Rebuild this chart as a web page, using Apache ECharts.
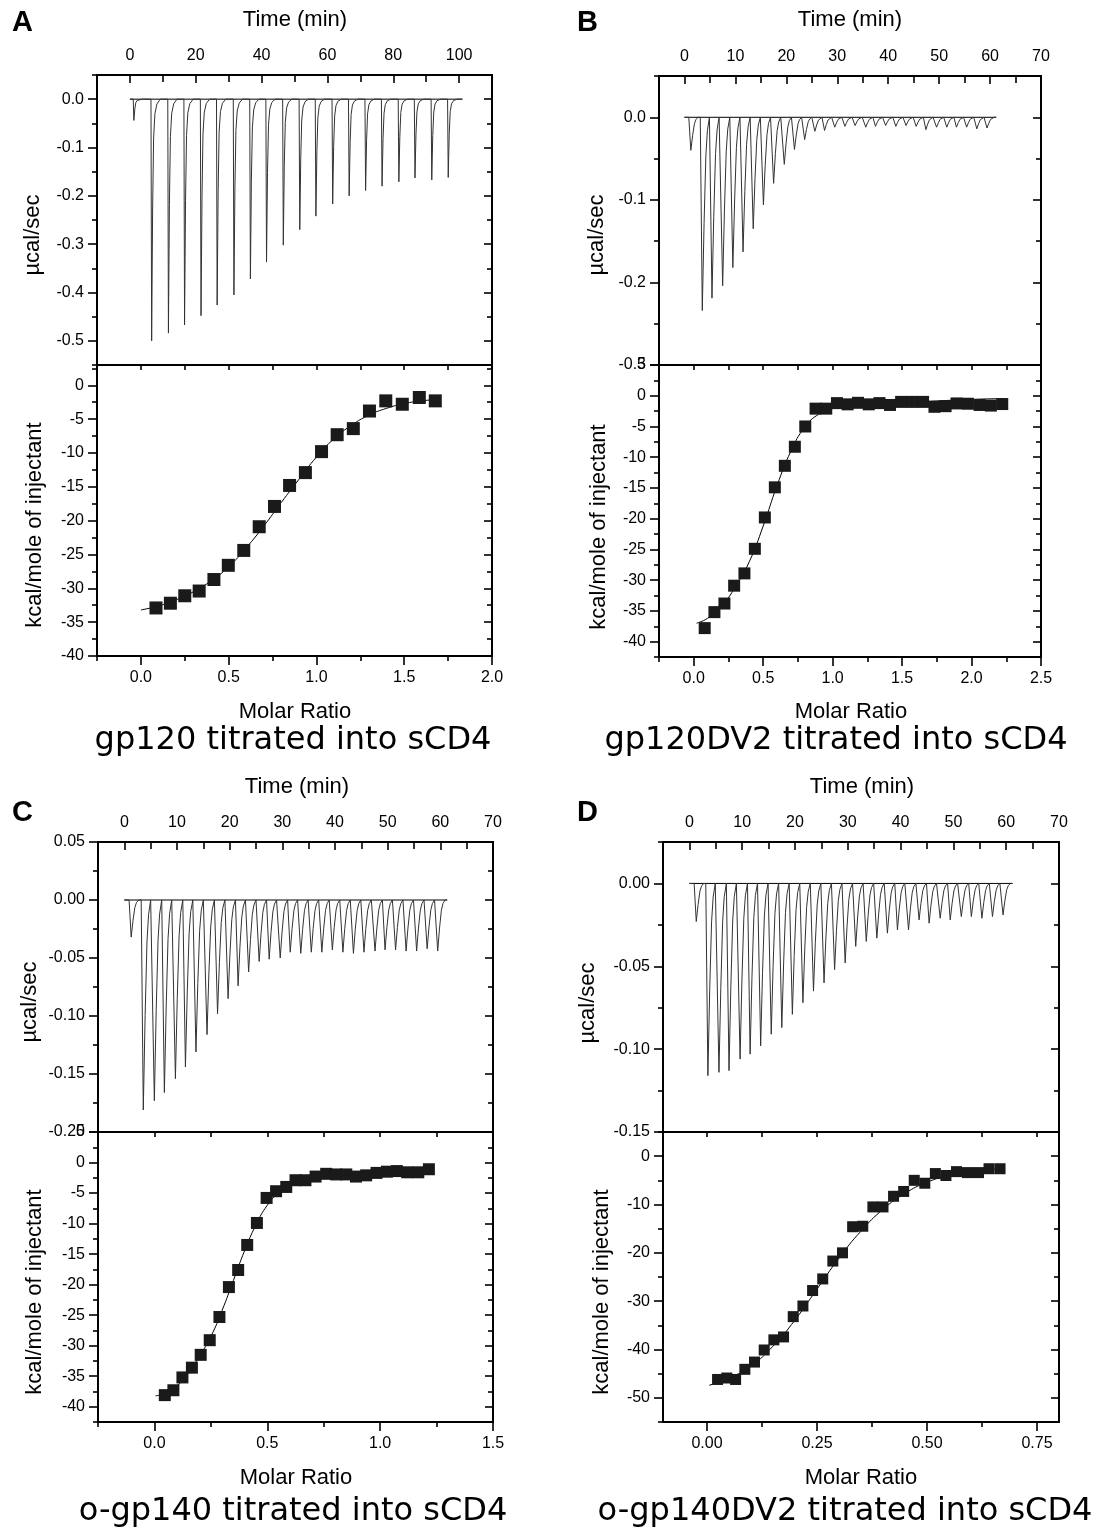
<!DOCTYPE html>
<html>
<head>
<meta charset="utf-8">
<script src="https://cdn.jsdelivr.net/npm/echarts@6/dist/echarts.min.js"></script>
<style>
  html, body { margin: 0; padding: 0; background: #fff; }
  #chart { width: 1102px; height: 1530px; }
</style>
</head>
<body>
<div id="chart"></div>
<script>
// ---- panel A: gp120 titrated into sCD4 ----
const aInjTime = [1.2, 6.6, 11.7, 16.6, 21.6, 26.5, 31.6, 36.6, 41.5, 46.6, 51.6, 56.5, 61.6, 66.6, 71.6, 76.6, 81.7, 86.6, 91.7, 96.7];
const aInjPeak = [-0.044, -0.500, -0.484, -0.467, -0.448, -0.426, -0.405, -0.372, -0.337, -0.302, -0.270, -0.242, -0.217, -0.200, -0.189, -0.180, -0.171, -0.163, -0.167, -0.162];
const aRatio = [0.086, 0.168, 0.250, 0.332, 0.416, 0.498, 0.586, 0.674, 0.761, 0.847, 0.937, 1.029, 1.118, 1.210, 1.302, 1.395, 1.489, 1.586, 1.677];
const aHeat = [-32.9, -32.2, -31.1, -30.4, -28.7, -26.6, -24.4, -20.9, -17.9, -14.8, -12.9, -9.8, -7.3, -6.4, -3.8, -2.3, -2.8, -1.8, -2.3];
const aFitRatio = [0.0, 0.1, 0.2, 0.3, 0.4, 0.5, 0.6, 0.7, 0.8, 0.9, 1.0, 1.1, 1.2, 1.3, 1.4, 1.5, 1.6, 1.68];
const aFitHeat = [-33.2, -32.6, -31.7, -30.5, -28.9, -26.8, -24.0, -20.8, -17.3, -13.9, -10.6, -7.9, -5.9, -4.4, -3.4, -2.7, -2.3, -2.1];
const aTimeTicks = [0, 20, 40, 60, 80, 100];
const aPowerTicks = [-0.5, -0.4, -0.3, -0.2, -0.1, 0.0];
const aRatioTicks = [0, 0.5, 1.0, 1.5, 2.0];
const aHeatTicks = [-40, -35, -30, -25, -20, -15, -10, -5, 0];

// ---- panel B: gp120DV2 titrated into sCD4 ----
const bInjTime = [1.25, 3.5, 5.4, 7.5, 9.5, 11.5, 13.5, 15.5, 17.5, 19.6, 21.6, 23.6, 25.6, 27.5, 29.5, 31.5, 33.5, 35.6, 37.5, 39.5, 41.5, 43.5, 45.5, 47.4, 49.5, 51.5, 53.4, 55.4, 57.4, 59.4];
const bInjPeak = [-0.040, -0.234, -0.219, -0.204, -0.182, -0.163, -0.135, -0.106, -0.080, -0.057, -0.039, -0.027, -0.017, -0.016, -0.012, -0.011, -0.010, -0.012, -0.011, -0.010, -0.011, -0.010, -0.011, -0.015, -0.012, -0.012, -0.012, -0.012, -0.014, -0.013];
const bRatio = [0.079, 0.149, 0.221, 0.291, 0.365, 0.440, 0.512, 0.584, 0.656, 0.728, 0.803, 0.877, 0.954, 1.031, 1.108, 1.183, 1.260, 1.337, 1.413, 1.493, 1.572, 1.651, 1.733, 1.813, 1.892, 1.974, 2.058, 2.139, 2.221];
const bHeat = [-37.8, -35.2, -33.8, -30.9, -28.9, -24.9, -19.8, -14.9, -11.4, -8.3, -5.0, -2.1, -2.1, -1.2, -1.4, -1.15, -1.4, -1.2, -1.5, -1.0, -1.0, -1.0, -1.8, -1.7, -1.25, -1.3, -1.5, -1.6, -1.35];
const bFitRatio = [0.02, 0.1, 0.2, 0.3, 0.4, 0.5, 0.6, 0.7, 0.8, 0.9, 1.0, 1.1, 1.2, 1.4, 1.7, 2.0, 2.23];
const bFitHeat = [-37.0, -36.2, -34.2, -31.1, -27.0, -21.2, -14.6, -9.0, -5.1, -3.0, -2.1, -1.6, -1.4, -1.2, -0.9, -0.6, -0.45];
const bTimeTicks = [0, 10, 20, 30, 40, 50, 60, 70];
const bPowerTicks = [-0.3, -0.2, -0.1, 0.0];
const bRatioTicks = [0, 0.5, 1.0, 1.5, 2.0, 2.5];
const bHeatTicks = [-40, -35, -30, -25, -20, -15, -10, -5, 0, 5];

// ---- panel C: o-gp140 titrated into sCD4 ----
const cInjTime = [1.3, 3.6, 5.7, 7.6, 9.7, 11.6, 13.6, 15.7, 17.7, 19.7, 21.6, 23.6, 25.6, 27.5, 29.6, 31.5, 33.5, 35.5, 37.5, 39.5, 41.5, 43.5, 45.5, 47.6, 49.5, 51.5, 53.5, 55.5, 57.5, 59.5];
const cInjPeak = [-0.032, -0.181, -0.173, -0.166, -0.154, -0.144, -0.131, -0.116, -0.098, -0.085, -0.074, -0.062, -0.053, -0.051, -0.050, -0.045, -0.046, -0.045, -0.045, -0.043, -0.045, -0.046, -0.045, -0.044, -0.043, -0.043, -0.044, -0.044, -0.042, -0.044];
const cRatio = [0.046, 0.084, 0.124, 0.166, 0.205, 0.245, 0.288, 0.330, 0.371, 0.411, 0.454, 0.497, 0.539, 0.584, 0.625, 0.669, 0.714, 0.761, 0.805, 0.850, 0.893, 0.938, 0.984, 1.030, 1.074, 1.120, 1.169, 1.216];
const cHeat = [-38.1, -37.3, -35.2, -33.6, -31.5, -29.1, -25.3, -20.4, -17.6, -13.5, -9.9, -5.8, -4.7, -4.0, -2.9, -2.9, -2.3, -1.85, -1.95, -1.95, -2.3, -2.1, -1.7, -1.5, -1.4, -1.6, -1.6, -1.1];
const cFitRatio = [0.005, 0.05, 0.1, 0.15, 0.2, 0.25, 0.3, 0.35, 0.4, 0.45, 0.5, 0.55, 0.6, 0.7, 0.8, 1.0, 1.22];
const cFitHeat = [-38.2, -37.8, -36.6, -34.5, -31.7, -28.5, -24.2, -19.3, -14.4, -10.2, -7.0, -5.0, -3.8, -2.7, -2.2, -1.6, -1.2];
const cTimeTicks = [0, 10, 20, 30, 40, 50, 60, 70];
const cPowerTicks = [-0.2, -0.15, -0.1, -0.05, 0.0, 0.05];
const cRatioTicks = [0, 0.5, 1.0, 1.5];
const cHeatTicks = [-40, -35, -30, -25, -20, -15, -10, -5, 0, 5];

// ---- panel D: o-gp140DV2 titrated into sCD4 ----
const dInjTime = [1.3, 3.5, 5.6, 7.5, 9.6, 11.5, 13.5, 15.5, 17.5, 19.5, 21.5, 23.5, 25.5, 27.5, 29.5, 31.5, 33.5, 35.5, 37.5, 39.4, 41.5, 43.5, 45.4, 47.5, 49.4, 51.5, 53.4, 55.4, 57.4, 59.4];
const dInjPeak = [-0.023, -0.116, -0.114, -0.113, -0.106, -0.103, -0.098, -0.091, -0.087, -0.079, -0.072, -0.065, -0.060, -0.052, -0.048, -0.038, -0.035, -0.033, -0.030, -0.028, -0.028, -0.022, -0.024, -0.021, -0.022, -0.020, -0.020, -0.021, -0.020, -0.019];
const dRatio = [0.024, 0.045, 0.065, 0.086, 0.108, 0.130, 0.152, 0.174, 0.196, 0.218, 0.240, 0.263, 0.286, 0.308, 0.331, 0.354, 0.377, 0.400, 0.424, 0.447, 0.471, 0.495, 0.519, 0.543, 0.567, 0.592, 0.617, 0.641, 0.666];
const dHeat = [-46.2, -45.9, -46.2, -44.1, -42.6, -40.1, -38.0, -37.4, -33.2, -31.0, -27.8, -25.4, -21.7, -20.0, -14.6, -14.5, -10.5, -10.5, -8.3, -7.3, -5.0, -5.6, -3.6, -4.0, -3.2, -3.4, -3.4, -2.6, -2.6];
const dFitRatio = [0.005, 0.05, 0.1, 0.15, 0.2, 0.25, 0.3, 0.35, 0.4, 0.45, 0.5, 0.55, 0.6, 0.67];
const dFitHeat = [-47.4, -45.9, -43.4, -39.3, -33.9, -27.5, -21.1, -15.5, -11.0, -7.7, -5.4, -4.0, -3.2, -2.6];
const dTimeTicks = [0, 10, 20, 30, 40, 50, 60, 70];
const dPowerTicks = [-0.15, -0.1, -0.05, 0.0];
const dRatioTicks = [0, 0.25, 0.5, 0.75];
const dHeatTicks = [-50, -40, -30, -20, -10, 0];

const captions = ['gp120 titrated into sCD4', 'gp120DV2 titrated into sCD4', 'o-gp140 titrated into sCD4', 'o-gp140DV2 titrated into sCD4'];

// spike outline (minutes after injection, fraction of peak)
const SLOW = [[-0.2, 0], [0, 1], [0.3, 0.45], [0.6, 0.16], [1.0, 0.06], [1.6, 0.02], [2.6, 0]];
const FAST = [[-0.4, 0], [0, 1], [0.35, 0.55], [0.7, 0.2], [1.0, 0.07], [1.4, 0]];

const FONT = '"Liberation Sans", Arial, sans-serif';
const option = { animation: false, backgroundColor: '#ffffff', grid: [], xAxis: [], yAxis: [], series: [], graphic: [] };

function minorOf(major, range) {
  const step = major[1] - major[0];
  const out = [];
  for (let i = -1; i < major.length; i++) {
    const v = +((i < 0 ? major[0] - step / 2 : major[i] + step / 2).toFixed(4));
    if (v >= range[0] - 1e-9 && v <= range[1] + 1e-9) out.push(v);
  }
  return out;
}

function addAxis(dim, grid, position, range, ticks, len, inside, fmt) {
  const list = dim === 'x' ? option.xAxis : option.yAxis;
  const margin = dim === 'x' ? (position === 'top' ? 11 : 14) : 13;
  list.push({
    type: 'value', gridIndex: grid, position: position,
    min: range[0], max: range[1],
    axisLine: { show: false, onZero: false },
    splitLine: { show: false },
    axisTick: { show: true, inside: inside, length: len, customValues: ticks,
                lineStyle: { color: '#000', width: 1.6 } },
    axisLabel: fmt ? { show: true, customValues: ticks, formatter: fmt, color: '#000',
                       fontFamily: FONT, fontSize: 16, margin: margin }
                   : { show: false }
  });
  return list.length - 1;
}

function spikes(times, peaks, shape, end) {
  const pts = [[0, 0]];
  times.forEach((t, i) => shape.forEach(s => pts.push([t + s[0], peaks[i] * s[1]])));
  pts.push([end, 0]);
  return pts;
}

function text(x, y, str, size, opts) {
  opts = opts || {};
  option.graphic.push({
    type: 'text', x: x, y: y, rotation: opts.rot || 0, z: 10,
    style: { text: str, fill: '#000', fontFamily: opts.family || FONT, fontSize: size,
             fontWeight: opts.bold ? 'bold' : 'normal',
             align: opts.align || 'center', verticalAlign: 'middle' }
  });
}

function panel(p) {
  const gTop = option.grid.length;
  const gBot = gTop + 1;
  const frame = { show: true, borderColor: '#000', borderWidth: 2, backgroundColor: 'transparent',
                  containLabel: false, outerBoundsMode: 'none' };
  option.grid.push(Object.assign({ left: p.left, top: p.top, width: p.width, height: p.hTop }, frame));
  option.grid.push(Object.assign({ left: p.left, top: p.top + p.hTop, width: p.width, height: p.hBot }, frame));

  // thermogram axes
  const xt = addAxis('x', gTop, 'top', p.time, p.timeTicks, 8, true, v => String(v));
  addAxis('x', gTop, 'top', p.time, minorOf(p.timeTicks, p.time), 7, true);
  const yt = addAxis('y', gTop, 'left', p.power, p.powerTicks, 9, false, v => v.toFixed(p.powerDigits));
  addAxis('y', gTop, 'left', p.power, minorOf(p.powerTicks, p.power), 5, false);
  addAxis('y', gTop, 'right', p.power, p.powerTicks, 8, true);
  addAxis('y', gTop, 'right', p.power, minorOf(p.powerTicks, p.power), 5, true);

  // isotherm axes
  const xb = addAxis('x', gBot, 'bottom', p.ratio, p.ratioTicks, 9, false, v => v.toFixed(p.ratioDigits));
  addAxis('x', gBot, 'bottom', p.ratio, minorOf(p.ratioTicks, p.ratio), 5, false);
  addAxis('x', gBot, 'top', p.ratio, p.ratioTicks.concat(minorOf(p.ratioTicks, p.ratio)), 5, true);
  const yb = addAxis('y', gBot, 'left', p.heat, p.heatTicks, 9, false, v => v.toFixed(0));
  addAxis('y', gBot, 'left', p.heat, minorOf(p.heatTicks, p.heat), 5, false);
  addAxis('y', gBot, 'right', p.heat, p.heatTicks, 8, true);
  addAxis('y', gBot, 'right', p.heat, minorOf(p.heatTicks, p.heat), 5, true);

  option.series.push({
    type: 'line', xAxisIndex: xt, yAxisIndex: yt, showSymbol: false, symbol: 'none',
    data: [[0, 0], [p.end, 0]], lineStyle: { color: '#000', width: 1 }, z: 2
  });
  option.series.push({
    type: 'line', xAxisIndex: xt, yAxisIndex: yt, showSymbol: false, symbol: 'none',
    data: spikes(p.inj[0], p.inj[1], p.shape, p.end), lineStyle: { color: '#333', width: 1 }, z: 3
  });
  option.series.push({
    type: 'line', xAxisIndex: xb, yAxisIndex: yb, showSymbol: false, symbol: 'none', smooth: true,
    data: p.fit[0].map((x, i) => [x, p.fit[1][i]]), lineStyle: { color: '#000', width: 1 }, z: 2
  });
  option.series.push({
    type: 'scatter', xAxisIndex: xb, yAxisIndex: yb, symbol: 'rect', symbolSize: p.size,
    data: p.pts[0].map((x, i) => [x, p.pts[1][i]]), itemStyle: { color: '#1a1a1a', opacity: 1 }, z: 3
  });

  text(p.letter[1], p.letter[2], p.letter[0], 29, { bold: true, align: 'left' });
  text(p.tTime[0], p.tTime[1], 'Time (min)', 22);
  text(p.tPower[0], p.tPower[1], 'µcal/sec', 22, { rot: Math.PI / 2 });
  text(p.tHeat[0], p.tHeat[1], 'kcal/mole of injectant', 22, { rot: Math.PI / 2 });
  text(p.tRatio[0], p.tRatio[1], 'Molar Ratio', 22);
  text(p.cap[1], p.cap[2], p.cap[0], 32, { family: '"DejaVu Sans", Verdana, sans-serif' });
}

panel({ left: 97, top: 75, width: 395, hTop: 290, hBot: 291,
  time: [-10, 110], timeTicks: aTimeTicks, power: [-0.55, 0.05], powerTicks: aPowerTicks, powerDigits: 1,
  ratio: [-0.25, 2.0], ratioTicks: aRatioTicks, ratioDigits: 1, heat: [-40, 3], heatTicks: aHeatTicks,
  inj: [aInjTime, aInjPeak], shape: SLOW, end: 101, fit: [aFitRatio, aFitHeat], pts: [aRatio, aHeat], size: 13,
  letter: ['A', 12, 23], tTime: [295, 20], tPower: [33, 235], tHeat: [35, 525], tRatio: [295, 712],
  cap: [captions[0], 293, 741] });

panel({ left: 659, top: 76, width: 382, hTop: 289, hBot: 292,
  time: [-5, 70], timeTicks: bTimeTicks, power: [-0.3, 0.05], powerTicks: bPowerTicks, powerDigits: 1,
  ratio: [-0.25, 2.5], ratioTicks: bRatioTicks, ratioDigits: 1, heat: [-42.5, 5], heatTicks: bHeatTicks,
  inj: [bInjTime, bInjPeak], shape: FAST, end: 61.2, fit: [bFitRatio, bFitHeat], pts: [bRatio, bHeat], size: 12,
  letter: ['B', 577, 23], tTime: [850, 20], tPower: [597, 235], tHeat: [599, 527], tRatio: [851, 712],
  cap: [captions[1], 836, 741] });

panel({ left: 98, top: 842, width: 395, hTop: 290, hBot: 290,
  time: [-5, 70], timeTicks: cTimeTicks, power: [-0.2, 0.05], powerTicks: cPowerTicks, powerDigits: 2,
  ratio: [-0.25, 1.5], ratioTicks: cRatioTicks, ratioDigits: 1, heat: [-42.5, 5], heatTicks: cHeatTicks,
  inj: [cInjTime, cInjPeak], shape: FAST, end: 61.3, fit: [cFitRatio, cFitHeat], pts: [cRatio, cHeat], size: 12,
  letter: ['C', 12, 813], tTime: [297, 787], tPower: [30, 1002], tHeat: [35, 1292], tRatio: [296, 1478],
  cap: [captions[2], 293, 1512] });

panel({ left: 663, top: 842, width: 396, hTop: 290, hBot: 290,
  time: [-5, 70], timeTicks: dTimeTicks, power: [-0.15, 0.025], powerTicks: dPowerTicks, powerDigits: 2,
  ratio: [-0.1, 0.8], ratioTicks: dRatioTicks, ratioDigits: 2, heat: [-55, 5], heatTicks: dHeatTicks,
  inj: [dInjTime, dInjPeak], shape: FAST, end: 61.2, fit: [dFitRatio, dFitHeat], pts: [dRatio, dHeat], size: 11,
  letter: ['D', 577, 813], tTime: [862, 787], tPower: [588, 1003], tHeat: [602, 1292], tRatio: [861, 1478],
  cap: [captions[3], 845, 1512] });

const chart = echarts.init(document.getElementById('chart'), null, { renderer: 'canvas' });
chart.setOption(option);
</script>
</body>
</html>
